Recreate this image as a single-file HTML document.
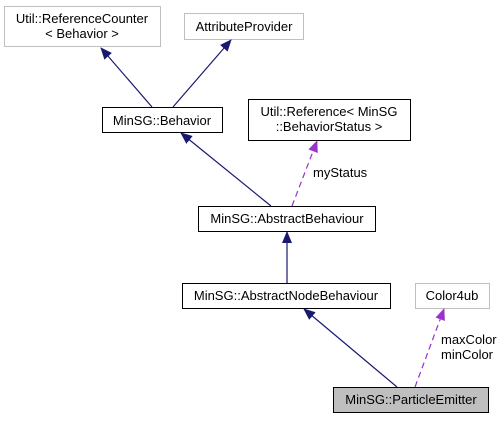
<!DOCTYPE html>
<html><head><style>body{margin:0;background:#fff}</style></head><body>
<svg width="504" height="419" xmlns="http://www.w3.org/2000/svg" font-family="Liberation Sans, sans-serif" font-size="13">
<defs>
<marker id="b" markerWidth="12" markerHeight="12" refX="11" refY="6" orient="auto" markerUnits="userSpaceOnUse"><path d="M0,1 L12,6 L0,11 z" fill="#191970"/></marker>
<marker id="p" markerWidth="12" markerHeight="12" refX="11" refY="6" orient="auto" markerUnits="userSpaceOnUse"><path d="M0,1 L12,6 L0,11 z" fill="#9a32cd"/></marker>
</defs>
<g fill="#fff" stroke="#bfbfbf">
<rect x="4.5" y="6.5" width="156" height="40"/>
<rect x="184.5" y="13.5" width="119" height="26"/>
<rect x="415.5" y="283.5" width="74" height="25"/>
</g>
<g fill="#fff" stroke="#000">
<rect x="102.5" y="107.5" width="120" height="25"/>
<rect x="248.5" y="99.5" width="162" height="41"/>
<rect x="198.5" y="206.5" width="177" height="25"/>
<rect x="182.5" y="283.5" width="208" height="25"/>
<rect x="333.5" y="387.5" width="155" height="25" fill="#bfbfbf"/>
</g>
<g stroke="#191970" stroke-width="1.2">
<line x1="152" y1="107" x2="101" y2="48" marker-end="url(#b)"/>
<line x1="173" y1="107" x2="231" y2="40" marker-end="url(#b)"/>
<line x1="271" y1="206" x2="181" y2="133" marker-end="url(#b)"/>
<line x1="287" y1="283" x2="287" y2="232" marker-end="url(#b)"/>
<line x1="397" y1="387" x2="304" y2="309" marker-end="url(#b)"/>
</g>
<g stroke="#9a32cd" stroke-width="1.2" stroke-dasharray="6,4">
<line x1="292" y1="206" x2="317" y2="141" marker-end="url(#p)"/>
<line x1="415" y1="387" x2="444" y2="309" marker-end="url(#p)"/>
</g>
<g fill="#000" text-anchor="middle">
<text x="82" y="23">Util::ReferenceCounter</text>
<text x="82" y="38">&lt; Behavior &gt;</text>
<text x="244" y="31">AttributeProvider</text>
<text x="162" y="125">MinSG::Behavior</text>
<text x="329" y="116">Util::Reference&lt; MinSG</text>
<text x="329" y="131">::BehaviorStatus &gt;</text>
<text x="287" y="223">MinSG::AbstractBehaviour</text>
<text x="286" y="300">MinSG::AbstractNodeBehaviour</text>
<text x="452" y="300">Color4ub</text>
<text x="411" y="404">MinSG::ParticleEmitter</text>
</g>
<g fill="#000">
<text x="313" y="177">myStatus</text>
<text x="441" y="344">maxColor</text>
<text x="441" y="359">minColor</text>
</g>
</svg>
</body></html>
